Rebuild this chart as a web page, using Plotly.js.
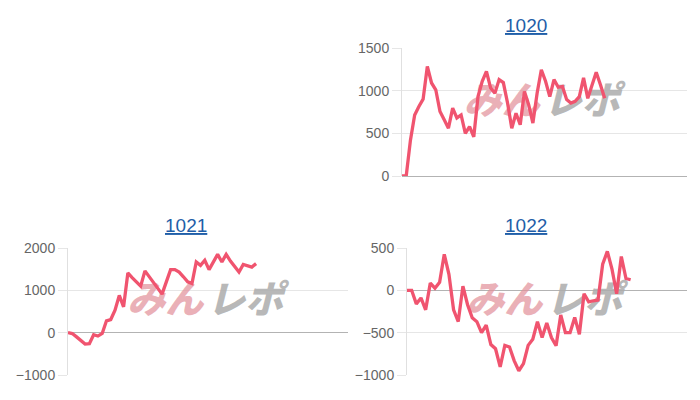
<!DOCTYPE html>
<html><head><meta charset="utf-8">
<script src="https://cdn.plot.ly/plotly-3.0.1.min.js"></script>
<style>html,body{margin:0;padding:0;background:#fff}#chart{width:700px;height:400px}</style>
</head><body><div id="chart"></div>
<script>
const titles = ['1020', '1021', '1022'];
const values1020 = [0,0,420,715,815,900,1285,1090,1010,755,660,560,795,680,715,500,580,460,930,1110,1225,1030,970,1130,1095,855,560,735,600,990,835,620,970,1245,1110,930,1130,1040,1050,895,855,875,930,1150,910,1050,1215,1070,910];
const values1021 = [0,-20,-100,-190,-270,-260,-50,-80,-20,280,310,530,880,610,1410,1300,1200,1100,1460,1320,1160,1020,910,1200,1490,1490,1430,1320,1200,1160,1670,1590,1710,1490,1670,1850,1670,1850,1690,1550,1430,1610,1570,1550,1630];
const values1022 = [0,0,-160,-90,-230,85,25,95,425,190,-230,-370,50,-170,-325,-370,-500,-410,-640,-690,-905,-650,-670,-830,-950,-865,-650,-577,-370,-558,-385,-558,-654,-290,-500,-500,-320,-520,-40,-135,-123,-115,308,460,250,-40,400,140,125];
const watermarkParts = ['みん', 'レポ'];

const W = 700, H = 400;
const lineColor = 'rgb(240,84,111)';
const panels = [
  {vals: values1020, xa: 'x',  ya: 'y',  xr: [0, 67.5], yr: [0, 1500],    dt: 500,  px: [402, 687], py: [48, 176],  tx: 526, ty: 26},
  {vals: values1021, xa: 'x2', ya: 'y2', xr: [0, 65.5], yr: [-1000, 2000], dt: 1000, px: [68, 348],  py: [248, 375], tx: 186, ty: 225},
  {vals: values1022, xa: 'x3', ya: 'y3', xr: [0, 60.1], yr: [-1000, 500],  dt: 500,  px: [407, 687], py: [248, 375], tx: 526, ty: 225}
];

const data = [];
const layout = {
  width: W, height: H, margin: {l: 0, r: 0, t: 0, b: 0},
  paper_bgcolor: '#fff', plot_bgcolor: '#fff', showlegend: false,
  font: {family: 'Liberation Sans, Arial, sans-serif', color: '#666'},
  annotations: []
};

panels.forEach((p, i) => {
  const sfx = i === 0 ? '' : String(i + 1);
  const wpx = p.px[1] - p.px[0];
  const unitX = (p.xr[1] - p.xr[0]) / wpx;
  const cx = p.xr[0] + 0.49 * (p.xr[1] - p.xr[0]);
  const cy = p.yr[0] + 0.56 * (p.yr[1] - p.yr[0]);
  data.push({type: 'scatter', mode: 'text', xaxis: p.xa, yaxis: p.ya, hoverinfo: 'skip',
    x: [cx - 40 * unitX], y: [cy], text: [watermarkParts[0]], textposition: 'middle center',
    textfont: {family: 'Noto Sans CJK JP', size: 38, weight: 900, style: 'italic', color: 'rgba(226,146,155,0.72)'}});
  data.push({type: 'scatter', mode: 'text', xaxis: p.xa, yaxis: p.ya, hoverinfo: 'skip',
    x: [cx + 40 * unitX], y: [cy], text: [watermarkParts[1]], textposition: 'middle center',
    textfont: {family: 'Noto Sans CJK JP', size: 38, weight: 900, style: 'italic', color: 'rgba(172,172,172,0.85)'}});
  data.push({type: 'scatter', mode: 'lines', xaxis: p.xa, yaxis: p.ya,
    x: p.vals.map((v, k) => k), y: p.vals,
    line: {color: lineColor, width: 3.3}, cliponaxis: false});
  layout['xaxis' + sfx] = {
    domain: [p.px[0] / W, p.px[1] / W], range: p.xr, anchor: 'y' + sfx,
    showgrid: false, zeroline: false, showline: false, showticklabels: false, ticks: '', fixedrange: true
  };
  layout['yaxis' + sfx] = {
    domain: [1 - p.py[1] / H, 1 - p.py[0] / H], range: p.yr, anchor: 'x' + sfx,
    dtick: p.dt, tick0: 0, showgrid: true, gridcolor: '#e6e6e6', gridwidth: 1,
    zeroline: true, zerolinecolor: '#b3b3b3', zerolinewidth: 1,
    showline: true, linecolor: '#e0e0e0', linewidth: 1,
    ticks: 'outside', ticklen: 9, tickcolor: '#e6e6e6',
    tickfont: {size: 14, color: '#666', family: 'Liberation Sans, Arial, sans-serif'}, fixedrange: true
  };
  layout.annotations.push({
    xref: 'paper', yref: 'paper', x: p.tx / W, y: 1 - p.ty / H, xanchor: 'center', yanchor: 'middle',
    showarrow: false, text: '<span style="text-decoration:underline">' + titles[i] + '</span>',
    font: {size: 19, color: '#1f5ea8', family: 'Liberation Sans, Arial, sans-serif'}
  });
});

Plotly.newPlot('chart', data, layout, {displayModeBar: false, staticPlot: true});
</script>
</body></html>
